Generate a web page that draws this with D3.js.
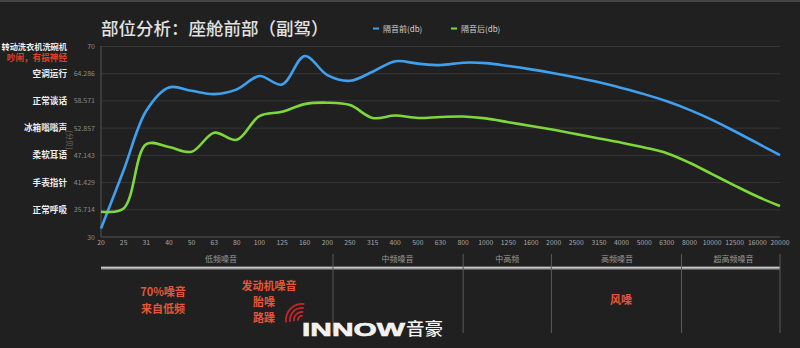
<!DOCTYPE html>
<html><head><meta charset="utf-8">
<script src="https://cdn.jsdelivr.net/npm/d3@7/dist/d3.min.js"></script>
<style>html,body{margin:0;padding:0;background:#202020;}svg{display:block;font-family:"Noto Sans CJK SC","Noto Sans",sans-serif;}</style>
</head><body><svg id="c" width="800" height="348"></svg>
<script>
const categories = ["20","25","31","40","50","63","80","100","125","160","200","250","315","400","500","630","800","1000","1250","1600","2000","2500","3150","4000","5000","6300","8000","10000","12500","16000","20000"];
const beforeValues = [31.8,44,56.5,61.4,60.7,60.0,61.0,63.8,62.0,68.0,64.0,62.8,64.7,66.9,66.4,66.1,66.6,66.5,65.9,65.2,64.4,63.5,62.5,61.3,60.0,58.5,56.7,54.6,52.2,49.7,47.2];
const afterValues = [35.3,36.0,49.5,48.9,47.9,51.9,50.4,55.4,56.3,57.9,58.2,57.7,55.0,55.5,55.0,55.2,55.3,54.9,54.1,53.3,52.5,51.6,50.7,49.8,48.8,47.6,45.6,43.2,40.8,38.5,36.5];
const seriesNames = ["隔音前(db)","隔音后(db)"];
const yTicks = [30,35.714,41.429,47.143,52.857,58.571,64.286,70];
const yTickLabels = ["30","35.714","41.429","47.143","52.857","58.571","64.286","70"];
const noiseRefs = ["正常呼吸","手表指针","柔软耳语","冰箱嗡嗡声","正常谈话","空调运行","转动洗衣机洗碗机"];
const bands = ["低频噪音","中频噪音","中高频","高频噪音","超高频噪音"];
const bandEnds = [10.25,16,19.9,25.65,30];
const bandLabelPos = [5.3,13.1,17.95,22.8,27.95];

const svg = d3.select("#c");
svg.append("rect").attr("width",800).attr("height",348).attr("fill","#202020");
svg.append("rect").attr("width",800).attr("height",2).attr("fill","#444");

const x = d3.scalePoint().domain(categories).range([101,780]).padding(0);
const xi = i => 101 + i*(780-101)/(categories.length-1);
const y = d3.scaleLinear().domain([30,70]).range([237,46.5]);

// title
svg.append("text").attr("x",101).attr("y",35).attr("fill","#e2e2e2").attr("font-size",17.5).attr("font-weight",500)
  .text("部位分析：座舱前部（副驾）");

// legend
const colors = ["#3fa0f0","#7ed83a"];
const lx = [373,451];
seriesNames.forEach((n,i)=>{
  svg.append("line").attr("x1",lx[i]).attr("x2",lx[i]+6).attr("y1",28.5).attr("y2",28.5).attr("stroke",colors[i]).attr("stroke-width",2);
  svg.append("text").attr("x",lx[i]+10).attr("y",31.5).attr("fill","#d0d0d0").attr("font-size",8).text(n);
});

// gridlines
svg.append("g").selectAll("line").data(yTicks).join("line")
  .attr("x1",101).attr("x2",780).attr("y1",d=>y(d)).attr("y2",d=>y(d))
  .attr("stroke",(d,i)=>i===0?"#555":"#363636").attr("stroke-width",1);
svg.append("line").attr("x1",101).attr("x2",101).attr("y1",46).attr("y2",237).attr("stroke","#555");

// y tick labels
svg.append("g").selectAll("text").data(yTicks).join("text")
  .attr("x",95).attr("y",d=>y(d)+2.5).attr("text-anchor","end").attr("fill","#8a8a8a").attr("font-size",7)
  .text((d,i)=>yTickLabels[i]);

// axis title rotated
svg.append("text").attr("transform","translate(67,140) rotate(90)").attr("text-anchor","middle")
  .attr("fill","#777").attr("font-size",7).text("[分贝]");

// left noise refs (aligned with ticks 35.714 ... 70)
noiseRefs.forEach((t,i)=>{
  const fs = t.length>6 ? 8.2 : 8.6;
  svg.append("text").attr("x",67).attr("y",y(yTicks[i+1])+3).attr("text-anchor","end")
    .attr("fill","#ececec").attr("font-size",fs).attr("font-weight",700).text(t);
});
svg.append("text").attr("x",67).attr("y",y(70)+14).attr("text-anchor","end")
  .attr("fill","#e0402a").attr("font-size",8.6).attr("font-weight",700).text("吵闹，有损神经");

// x tick labels
svg.append("g").selectAll("text").data(categories).join("text")
  .attr("x",d=>x(d)).attr("y",245).attr("text-anchor","middle").attr("fill","#a8a8a8").attr("font-size",6.8)
  .text(d=>d);

// lines
const line = d3.line().x((d,i)=>x(categories[i])).y(d=>y(d)).curve(d3.curveCatmullRom.alpha(0.5));
[beforeValues,afterValues].forEach((vals,i)=>{
  svg.append("path").attr("d",line(vals)).attr("fill","none").attr("stroke",colors[i]).attr("stroke-width",2.6);
});

// bottom band area
svg.append("line").attr("x1",101).attr("x2",780).attr("y1",268).attr("y2",268).attr("stroke","#9a9a9a").attr("stroke-width",3);
svg.append("line").attr("x1",101).attr("x2",780).attr("y1",267.5).attr("y2",267.5).attr("stroke","#c8c8c8").attr("stroke-width",1);
bandEnds.forEach(b=>{
  svg.append("line").attr("x1",xi(b)).attr("x2",xi(b)).attr("y1",254).attr("y2",333).attr("stroke","#5a5a5a").attr("stroke-width",1);
});
bands.forEach((t,i)=>{
  svg.append("text").attr("x",xi(bandLabelPos[i])).attr("y",262).attr("text-anchor","middle")
    .attr("fill","#9a9a9a").attr("font-size",8).text(t);
});

// red annotations
const red = "#e4553a";
const ann = [["70%噪音",163,296],["来自低频",163,313],["发动机噪音",269,290],["胎噪",264,306],["路躁",264,322],["风噪",621,304]];
ann.forEach(a=>{
  svg.append("text").attr("x",a[1]).attr("y",a[2]).attr("text-anchor","middle").attr("fill",red)
    .attr("font-size",11).attr("font-weight",700).text(a[0]);
});

// logo
const lg = svg.append("g");
[5,9,13,17].forEach(r=>{
  lg.append("path").attr("d",d3.arc()({innerRadius:r-1.8,outerRadius:r,startAngle:-Math.PI/2-0.15,endAngle:0.15}))
    .attr("transform","translate(302,320)").attr("fill","#c8262a");
});
lg.append("text").attr("x",302).attr("y",336).attr("fill","#f2f2f2").attr("font-size",18.5).attr("font-weight",900)
  .attr("font-family","'Liberation Sans','DejaVu Sans',sans-serif").attr("textLength",103).attr("lengthAdjust","spacingAndGlyphs")
  .attr("stroke","#f2f2f2").attr("stroke-width",0.6).text("INNOW");
lg.append("text").attr("x",406).attr("y",335).attr("fill","#f2f2f2").attr("font-size",17).attr("font-weight",500)
  .attr("textLength",37).attr("lengthAdjust","spacingAndGlyphs").text("音豪");
</script></body></html>
